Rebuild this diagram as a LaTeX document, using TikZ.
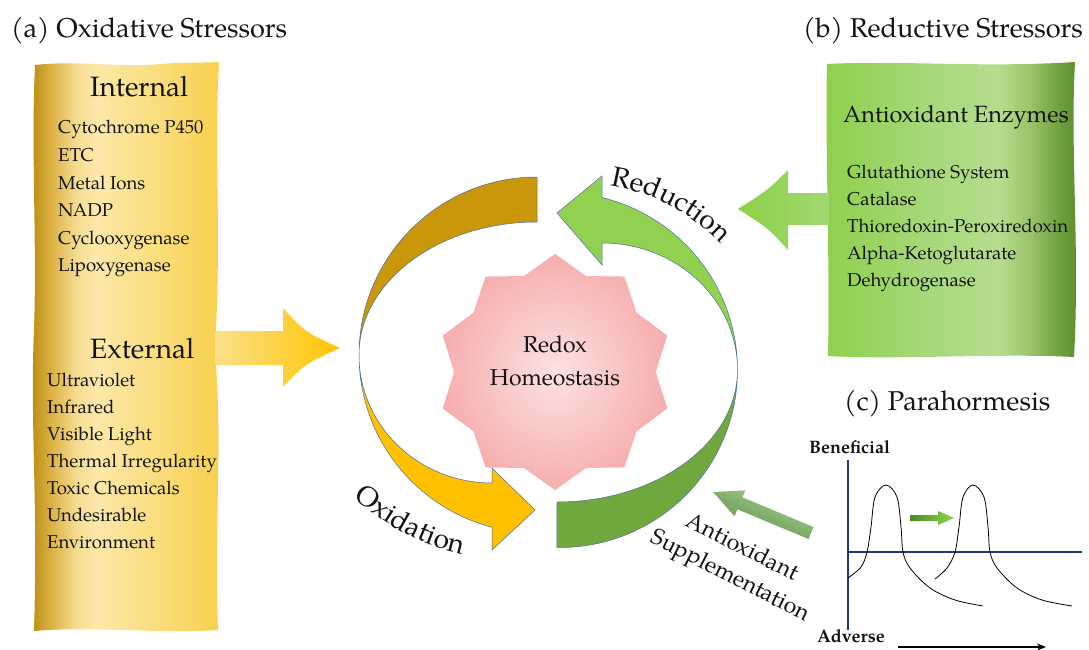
\documentclass[tikz,border=0pt]{standalone}
\usepackage{fontspec}
\setmainfont{TeX Gyre Pagella}
\usetikzlibrary{shapes.geometric,decorations.text,arrows.meta}
\definecolor{gA}{HTML}{B88A10}
\definecolor{gB}{HTML}{D9AE3E}
\definecolor{gC}{HTML}{F6DC90}
\definecolor{gD}{HTML}{FCE8AA}
\definecolor{gE}{HTML}{FADD7C}
\definecolor{gF}{HTML}{F8D04C}
\definecolor{vA}{HTML}{8ED04C}
\definecolor{vB}{HTML}{A7D87A}
\definecolor{vC}{HTML}{B6DD8E}
\definecolor{vD}{HTML}{9CC46C}
\definecolor{vE}{HTML}{70A03E}
\definecolor{vF}{HTML}{5A8A2A}
\definecolor{darkgold}{HTML}{C99709}
\definecolor{brightgold}{HTML}{FFC000}
\definecolor{lightgrn}{HTML}{92D050}
\definecolor{darkgrn}{HTML}{70A83E}
\definecolor{ringline}{HTML}{4A6FA5}
\definecolor{pinkin}{HTML}{FDE2E2}
\definecolor{pinkout}{HTML}{F6AEAE}
\definecolor{navy}{HTML}{1F3A78}
\definecolor{arrL}{HTML}{FBE08A}
\definecolor{arrR}{HTML}{FFC400}
\definecolor{gtip}{HTML}{8CD046}
\definecolor{gbase}{HTML}{A2D872}
\definecolor{supL}{HTML}{A9D593}
\definecolor{supD}{HTML}{5C8844}
\definecolor{smD}{HTML}{4E8A2A}
\definecolor{smL}{HTML}{8CD448}
\definecolor{ink}{HTML}{141414}
\pgfdeclarehorizontalshading{goldbox}{100bp}{color(0bp)=(gA); color(25bp)=(gA); color(30bp)=(gB); color(37bp)=(gC); color(42bp)=(gD); color(58bp)=(gE); color(75bp)=(gF); color(100bp)=(gF)}
\pgfdeclarehorizontalshading{greenbox}{100bp}{color(0bp)=(vA); color(25bp)=(vA); color(45bp)=(vB); color(59bp)=(vC); color(65bp)=(vD); color(71bp)=(vE); color(75bp)=(vF); color(100bp)=(vF)}
\begin{document}
\begin{tikzpicture}[x=1pt,y=-1pt,
  bigtxt/.style={font=\fontsize{27.2}{32}\selectfont, text=ink, inner sep=0, anchor=base west},
  midtxt/.style={font=\fontsize{23}{26}\selectfont, text=ink, inner sep=0},
  itemtxt/.style={font=\fontsize{18.6}{22}\selectfont, text=ink, inner sep=0, anchor=base west},
  axislbl/.style={font=\fontsize{18}{20}\selectfont\bfseries, text=ink, inner sep=0, anchor=base west},
  ribbon/.style={draw=ringline, line width=0.5pt},
  axisline/.style={draw=navy, line width=1.6pt},
  curveline/.style={draw=black, line width=0.8pt}]
\fill[white] (0,0) rectangle (1089,650);
\useasboundingbox (0,0) rectangle (1089,650);

% ---------- left box (oxidative stressors)
\shade[shading=goldbox] (35,65) .. controls (80,60) and (120,68) .. (160,64) .. controls (185,62) and (205,63) .. (219,62)
  .. controls (214,150) and (221,220) .. (216,330) -- (216,365) .. controls (222,450) and (214,540) .. (218,630)
  .. controls (160,634) and (90,626) .. (34,631)
  .. controls (38,500) and (30,420) .. (34,330) .. controls (37,240) and (31,150) .. (35,65) -- cycle;
\shade[left color=arrL, right color=arrR] (215,331) -- (283,331) -- (283,308) .. controls (305,332) .. (340,348)
  .. controls (305,364) .. (283,387) -- (283,365) -- (215,365) -- cycle;

\node[bigtxt] (titleA) at (11,38) {(a) Oxidative Stressors};
\node[bigtxt, font=\fontsize{28}{32}\selectfont] (internal) at (90,97) {Internal};
\foreach \t [count=\i] in {Cytochrome P450, ETC, Metal Ions, NADP, Cyclooxygenase, Lipoxygenase}
  \node[itemtxt] (int\i) at (58,{134+27.5*(\i-1)}) {\t};
\node[bigtxt, font=\fontsize{28}{32}\selectfont] (external) at (90,358) {External};
\foreach \t [count=\i] in {Ultraviolet, Infrared, Visible Light, Thermal Irregularity, Toxic Chemicals, Undesirable, Environment}
  \node[itemtxt] (ext\i) at (47,{386+27*(\i-1)}) {\t};

% ---------- right box (reductive stressors)
\shade[shading=greenbox] (827,64) .. controls (900,60) and (980,68) .. (1075,62)
  .. controls (1070,150) and (1080,250) .. (1074,357)
  .. controls (1000,353) and (900,360) .. (828,356)
  .. controls (830,250) and (825,150) .. (827,64) -- cycle;
\shade[left color=gtip, right color=gbase] (829,193) -- (788,193) -- (788,170) .. controls (768,190) .. (738,209)
  .. controls (768,228) .. (788,250) -- (788,225) -- (829,225) -- cycle;
\node[bigtxt] (titleB) at (803,38) {(b) Reductive Stressors};
\node[itemtxt, font=\fontsize{23.5}{26}\selectfont] (enz) at (843,123) {Antioxidant Enzymes};
\foreach \t [count=\i] in {Glutathione System, Catalase, Thioredoxin-Peroxiredoxin, Alpha-Ketoglutarate, Dehydrogenase}
  \node[itemtxt] (enz\i) at (847,{178+27.2*(\i-1)}) {\t};

% ---------- central star
\node[star, star points=10, star point ratio=1.17, minimum size=236pt, inner sep=0pt,
      shade, inner color=pinkin, outer color=pinkout] (star) at (555,372) {};
\node[midtxt, anchor=base] (redox) at (555,352) {Redox};
\node[midtxt, anchor=base] (homeo) at (555,385) {Homeostasis};

% ---------- ring of arrows
% dark gold tail
\fill[darkgold, ribbon] (537,177) arc[start angle=-90, end angle=-180, radius=178]
  arc[start angle=180, end angle=270, x radius=178, y radius=133] -- cycle;
% bright gold head
\fill[brightgold, ribbon] (359,355) arc[start angle=180, end angle=104.6, radius=178]
  -- (492,550) -- (535,510) -- (492,468) -- (492,483)
  arc[start angle=90, end angle=180, x radius=133, y radius=128] -- cycle;
% dark green tail
\fill[darkgrn, ribbon] (737.5,370) arc[start angle=0, end angle=91, radius=177.5]
  -- (557,502) arc[start angle=90, end angle=0, x radius=180.5, y radius=132] -- cycle;
% light green head
\fill[lightgrn, ribbon] (737.5,370) arc[start angle=0, end angle=-76.3, radius=177.5]
  -- (602,176) -- (557,213) -- (602,265) -- (602,243)
  arc[start angle=270, end angle=360, x radius=135.5, y radius=127] -- cycle;

% curved labels
\path[decorate, decoration={text along path, text align=center,
      text={|\fontsize{28}{30}\selectfont\color{ink}|Reduction}}]
  (546.7,185.9) arc[start angle=-100, end angle=-24, radius=192];
\path[decorate, decoration={text along path, text align=center,
      text={|\fontsize{28}{30}\selectfont\color{ink}|Oxidation}}]
  (345.3,489.7) arc[start angle=135, end angle=100, radius=240];

% ---------- antioxidant supplementation
\shade[left color=supD, right color=supL, shading angle=157.3] (813.5,527) -- (742.4,497.3) -- (745.3,490.4) -- (713,492)
  -- (734.5,516.2) -- (737.4,509.3) -- (808.5,539) -- cycle;
\node[midtxt, rotate=-27] (anti) at (743,546) {Antioxidant};
\node[midtxt, rotate=-27] (suppl) at (730,577) {Supplementation};

% ---------- parahormesis
\node[bigtxt] (titleC) at (844,410) {(c) Parahormesis};
\node[axislbl] (benef) at (809,453) {Beneficial};
\node[axislbl] (adv) at (817,642) {Adverse};
\coordinate (vtop) at (848,460);
\coordinate (vbot) at (848,630);
\coordinate (hleft) at (848,552);
\coordinate (hright) at (1082,552);
\draw[axisline] (vtop) -- (vbot);
\draw[axisline] (hleft) -- (hright);
\draw[curveline] plot[smooth, tension=0.55] coordinates {(848,578) (861,567) (867,552) (871,527) (875,497) (886,485) (897,497) (901,527) (903,552) (910,568) (930,588) (955,600) (983,606)};
\draw[curveline] plot[smooth, tension=0.55] coordinates {(935,579) (947,568) (955,552) (959,527) (963,497) (973,485) (984,497) (988,527) (990,552) (997,568) (1017,588) (1042,600) (1072,606)};
\shade[left color=smD, right color=smL] (910,515) -- (938,515) -- (938,511) -- (954,518) -- (938,525) -- (938,521) -- (910,521) -- cycle;
\coordinate (xs) at (898,647);
\coordinate (xe) at (1046,647);
\draw[line width=1.8pt, -{Stealth[length=9pt, width=7pt]}] (xs) -- (xe);
\end{tikzpicture}
\end{document}
